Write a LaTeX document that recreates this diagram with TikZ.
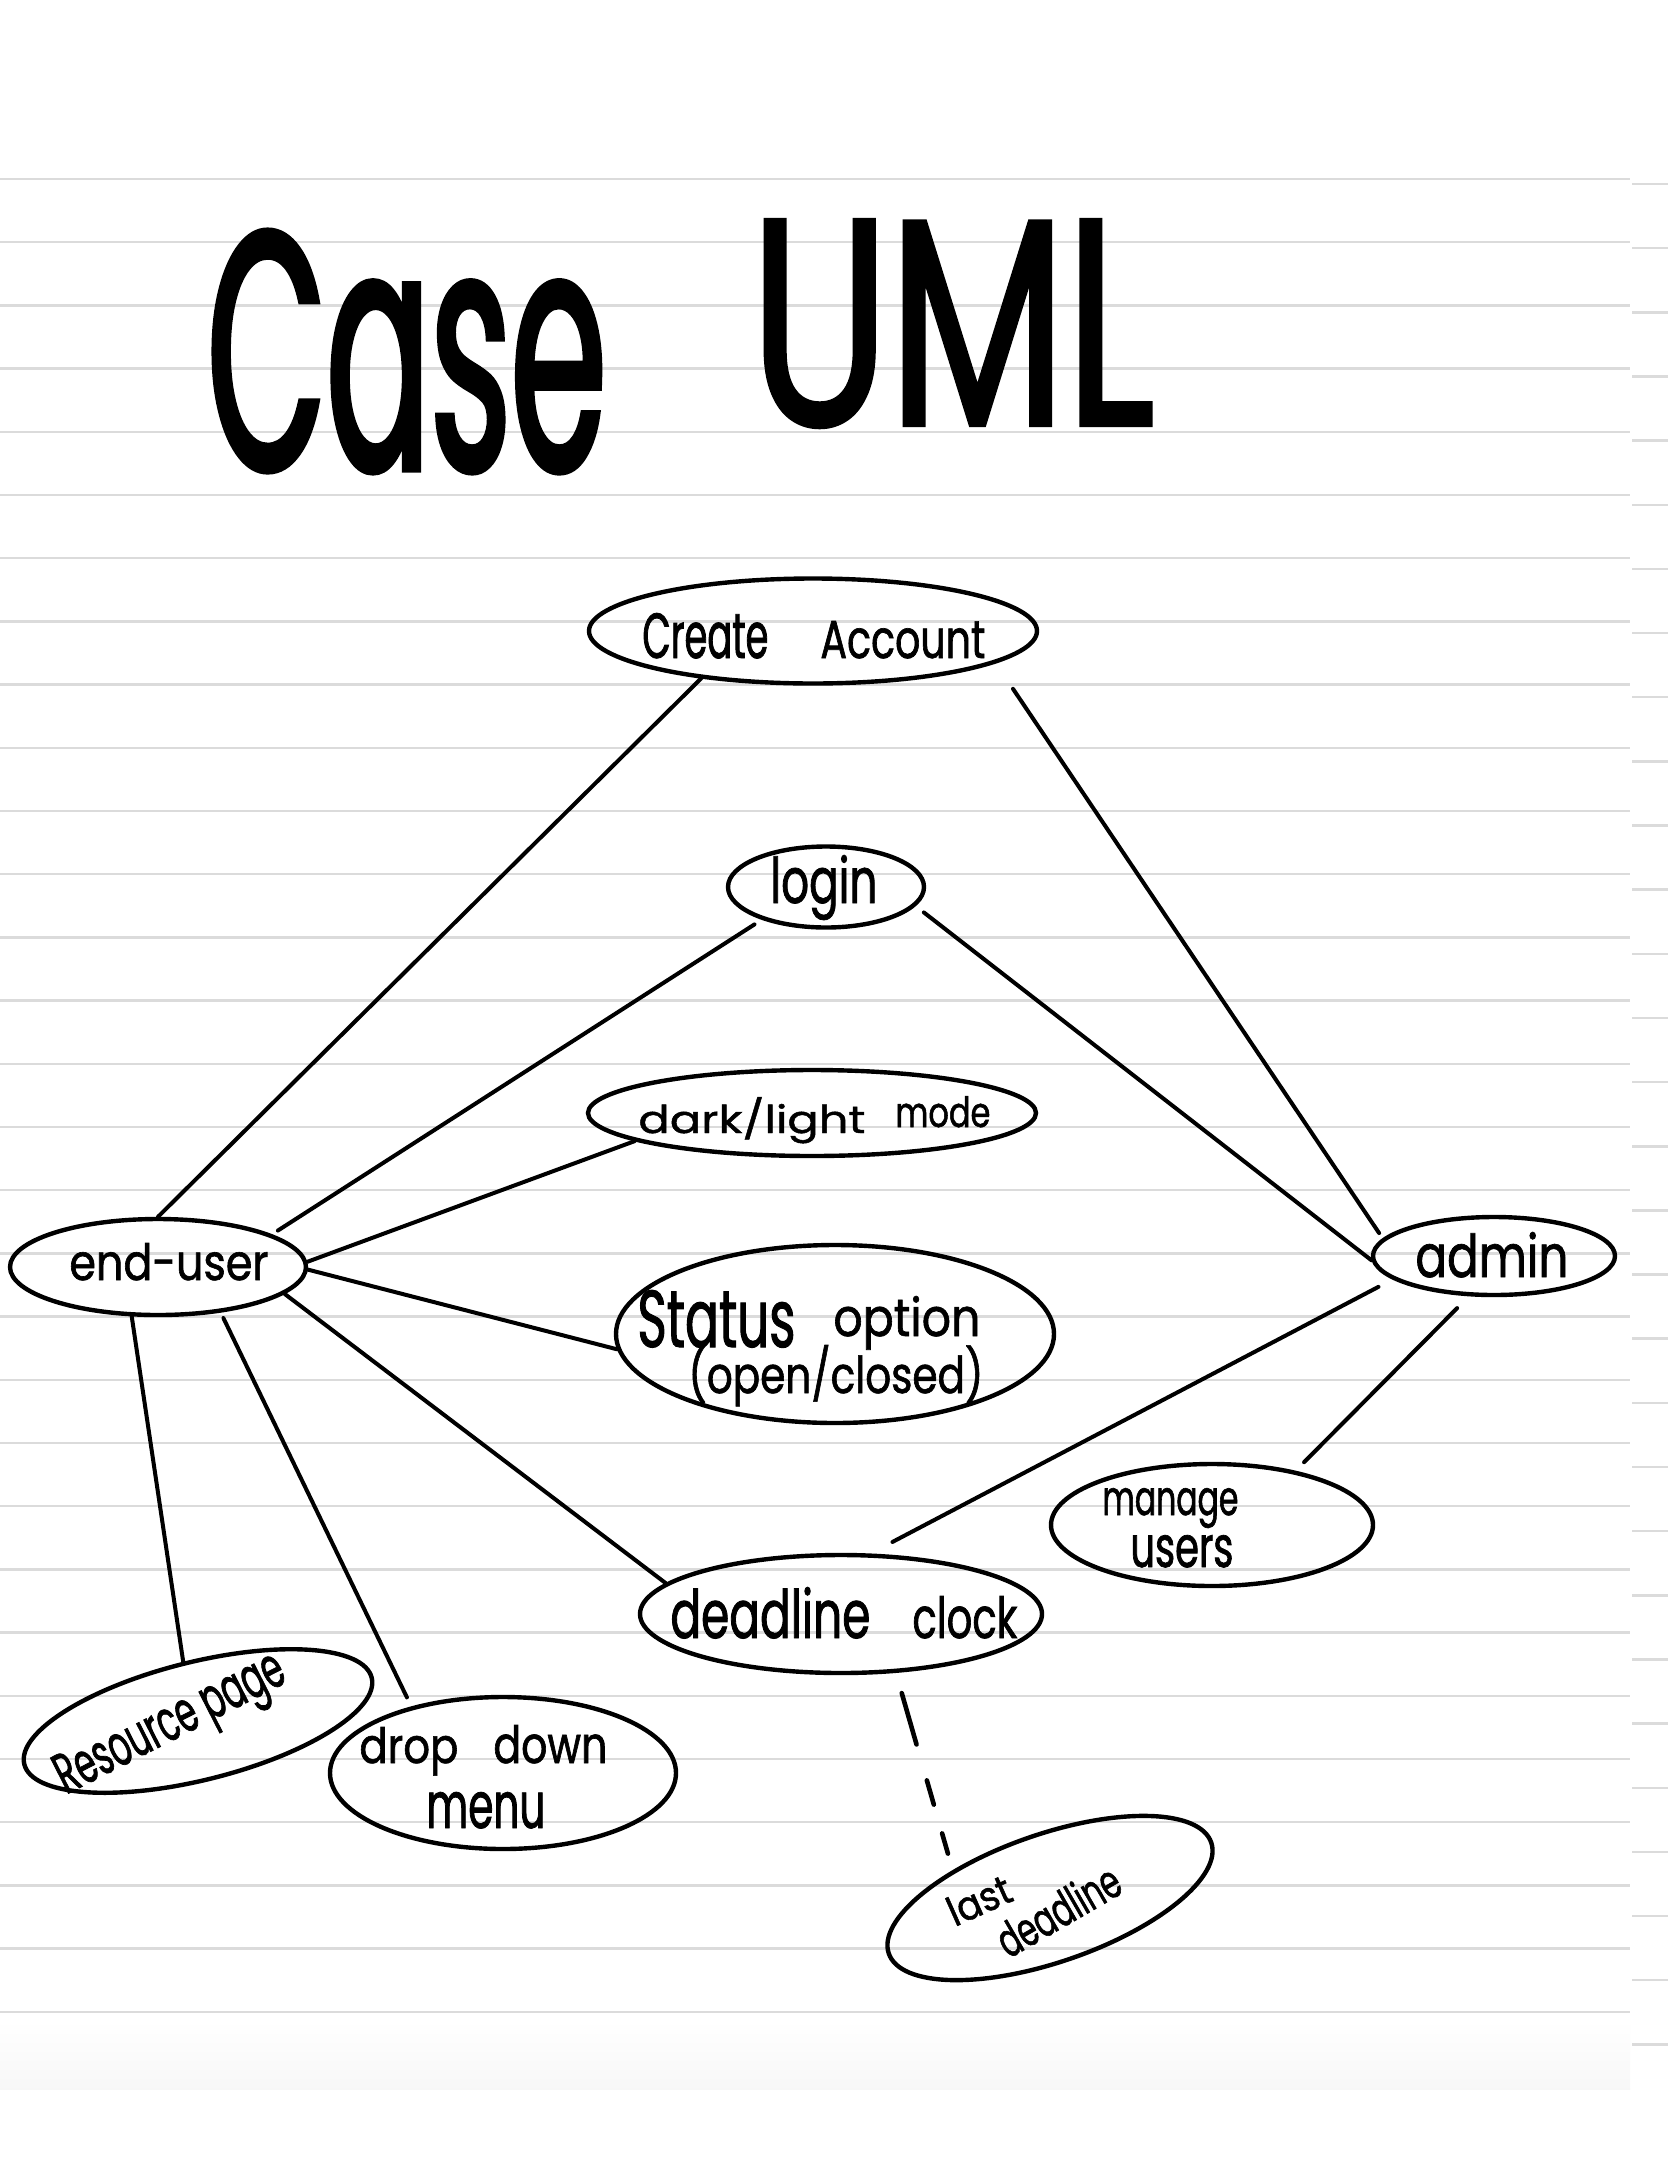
\documentclass[tikz,border=0pt]{standalone}
\usepackage{fontspec}
\usetikzlibrary{shapes.geometric}
\newfontfamily\handfont[FakeBold=1.2, Kerning=Off]{Poppins}
\newfontfamily\titlefont[FakeBold=1.5, Kerning=Off]{Poppins}
% set a word at the size that gives it the height #2 (pt) and stretch it to the width #1 (pt)
\newlength\lblw
\newlength\lblh
\newcommand\lbl[3]{{%
  \fontsize{10pt}{12pt}\selectfont
  \settowidth\lblw{#3}\settoheight\lblh{#3}%
  \pgfmathsetmacro\lblsize{10*#2/\lblh}%
  \pgfmathsetmacro\lblstretch{#1/(\lblw*\lblsize/10)}%
  \fontsize{\lblsize pt}{\lblsize pt}\selectfont
  \edef\lblfeat{\noexpand\addfontfeature{FakeStretch=\lblstretch}}\lblfeat
  #3}}

\begin{document}
\begin{tikzpicture}[x=0.5pt,y=-0.5pt,
  rule/.style={line width=1.25pt, draw=black!14},
  uc/.style={draw, ellipse, line width=2.2pt, inner sep=0pt},
  link/.style={line width=2pt, line cap=round},
  hand/.style={inner sep=0pt, font=\handfont},
]
\useasboundingbox (0,0) rectangle (1668,2157);
\fill[white] (0,0) rectangle (1668,2157);

% ruled notebook paper
\shade[top color=white, bottom color=black!3] (0,2020) rectangle (1630,2089);
\foreach \k in {0,...,29}
  \draw[rule] (0,{179+63.2*\k}) -- (1630,{179+63.2*\k});
\foreach \k in {0,...,29}
  \draw[rule] (1632,{184+64.15*\k}) -- (1668,{184+64.15*\k});

% title
\node[hand, anchor=base west, font=\titlefont] (title1) at (207,470) {\lbl{199.5}{120}{Case}};
\node[hand, anchor=base west, font=\titlefont] (title2) at (750,425) {\lbl{202}{102.5}{UML}};

% use cases and actors
\node[uc, minimum width=224pt, minimum height=52.5pt] (create) at (813,631) {};
\node[uc, minimum width=98pt, minimum height=40.5pt] (login) at (826,887) {};
\node[uc, minimum width=224pt, minimum height=43pt] (dark) at (812,1113) {};
\node[uc, minimum width=148pt, minimum height=48pt] (enduser) at (158,1267) {};
\node[uc, minimum width=121pt, minimum height=39pt] (admin) at (1494,1256) {};
\node[uc, minimum width=219pt, minimum height=89pt] (status) at (835,1334) {};
\node[uc, minimum width=161pt, minimum height=61pt] (manage) at (1212,1525) {};
\node[uc, minimum width=201pt, minimum height=59pt] (clock) at (841,1614) {};
\node[uc, minimum width=173pt, minimum height=76pt] (dropdown) at (503,1773) {};
\node[uc, minimum width=179pt, minimum height=59pt, rotate=14] (resource) at (198,1721) {};
\node[uc, minimum width=170.5pt, minimum height=64pt, rotate=19] (lastdl) at (1050,1898) {};

% labels
\node[hand, anchor=base west] (createT) at (642,658) {\lbl{63}{22.5}{Create}\hspace{26pt}\lbl{82.5}{18.5}{Account}};
\node[hand, anchor=base west] (loginT) at (770,903) {\lbl{53.5}{24}{login}};
\node[hand, anchor=base west] (darkT) at (638,1133) {\lbl{113.5}{18}{dark/light}\hspace{15pt}\raisebox{3pt}{\lbl{47.5}{15.5}{mode}}};
\node[hand, anchor=base west] (enduserT) at (69,1280) {\lbl{99.5}{18.5}{end-user}};
\node[hand, anchor=base west] (adminT) at (1415,1277) {\lbl{76.5}{22.5}{admin}};
\node[hand, anchor=base west] (statusT1) at (637,1347) {\lbl{79}{28.5}{Status}\hspace{19pt}\raisebox{5.5pt}{\lbl{73.5}{20}{option}}};
\node[hand, anchor=base west] (statusT2) at (688,1393) {\lbl{147.5}{24}{(open/closed)}};
\node[hand, anchor=base west] (manageT1) at (1102,1515) {\lbl{68}{13.5}{manage}};
\node[hand, anchor=base west] (manageT2) at (1130,1567) {\lbl{51.5}{16}{users}};
\node[hand, anchor=base west] (clockT) at (670,1638) {\lbl{100}{25.5}{deadline}\hspace{21pt}\lbl{52.5}{21}{clock}};
\node[hand, anchor=base west] (dropT1) at (359,1763) {\lbl{49.5}{18}{drop}\hspace{17.5pt}\lbl{57}{19}{down}};
\node[hand, anchor=base west] (dropT2) at (426,1828) {\lbl{59.5}{18}{menu}};
\node[hand, rotate=27] (resT) at (172,1727) {\lbl{125}{20}{Resource page}};
\node[hand, rotate=24] (lastT1) at (979,1900) {\lbl{33}{15}{last}};
\node[hand, rotate=30] (lastT2) at (1058,1910) {\lbl{67.5}{18}{deadline}};

% associations
\draw[link] (enduser.90) -- (create.-157.4);
\draw[link, shorten <=3.5pt, shorten >=4.3pt] (enduser.16.5) -- (login.-153.4);
\draw[link] (enduser.2) -- (dark.-171.3);
\draw[link] (enduser.-1) -- (status.-176.7);
\draw[link] (enduser.-12.3) -- (clock.170);
\draw[link] (enduser.-118.7) -- (resource.90);
\draw[link, shorten <=3pt, shorten >=5pt] (enduser.-36.1) -- (dropdown.144.5);
\draw[link, shorten <=15.4pt, shorten >=3.2pt] (create.-10.7) -- (admin.171.5);
\draw[link, shorten <=5.2pt] (login.-12.4) -- (admin.182.8);
\draw[link, shorten <=8pt, shorten >=12.4pt] (admin.-167.7) -- (clock.64.3);
\draw[link, shorten <=8.3pt, shorten >=6pt] (admin.-122.1) -- (manage.33.4);
\draw[link, line width=2.3pt, shorten <=10.5pt, shorten >=7pt,
      dash pattern=on 26.7pt off 18.7pt on 12.6pt off 15pt on 10.5pt off 40pt]
  (clock.-47.9) -- (lastdl.145.5);
\end{tikzpicture}
\end{document}
